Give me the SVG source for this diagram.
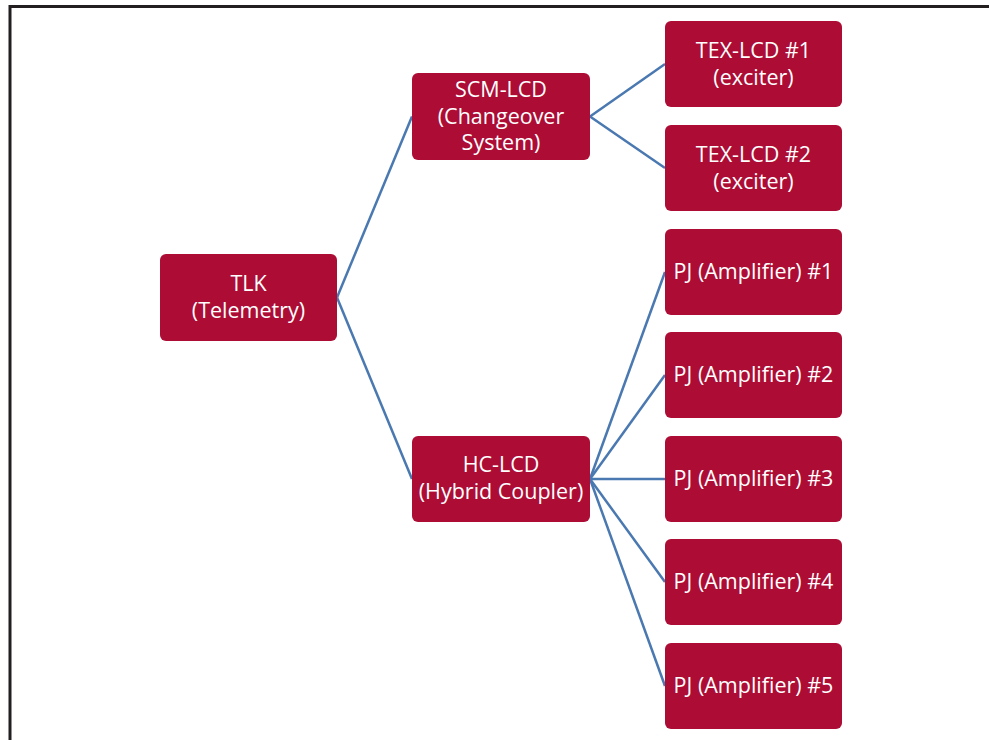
<svg xmlns="http://www.w3.org/2000/svg" width="989" height="740" viewBox="0 0 989 740">
<style>
.n rect{fill:#AD0C35}
.n text{fill:#ffffff;font-family:"Open Sans","Noto Sans","Liberation Sans",sans-serif;font-size:21.5px;text-anchor:middle}
.c path{fill:none;stroke:#4A78B0;stroke-width:2.5}
</style>
<rect width="989" height="740" fill="#ffffff"/>
<path d="M10 740 V6.5 H989" fill="none" stroke="#231F20" stroke-width="3"/>
<g id="connectors" class="c">
<path d="M337 297.5 L412 116.5"/>
<path d="M337 297.5 L412 479"/>
<path d="M590 116.5 L665 64"/>
<path d="M590 116.5 L665 168"/>
<path d="M590 479 L665 272"/>
<path d="M590 479 L665 375"/>
<path d="M590 479 L665 479"/>
<path d="M590 479 L665 582"/>
<path d="M590 479 L665 686"/>
</g>
<g id="tlk" class="n"><rect x="160" y="254" width="177" height="87" rx="6"/><text x="248.5" y="291">TLK</text><text x="248.5" y="318">(Telemetry)</text></g>
<g id="scm" class="n"><rect x="412" y="73" width="178" height="87" rx="6"/><text x="501" y="97">SCM-LCD</text><text x="501" y="123.5">(Changeover</text><text x="501" y="150">System)</text></g>
<g id="hc" class="n"><rect x="412" y="436" width="178" height="86" rx="6"/><text x="501" y="472">HC-LCD</text><text x="501" y="499">(Hybrid Coupler)</text></g>
<g id="tex1" class="n"><rect x="665" y="21" width="177" height="86" rx="6"/><text x="753.5" y="57.5">TEX-LCD #1</text><text x="753.5" y="84.5">(exciter)</text></g>
<g id="tex2" class="n"><rect x="665" y="125" width="177" height="86" rx="6"/><text x="753.5" y="161.5">TEX-LCD #2</text><text x="753.5" y="188.5">(exciter)</text></g>
<g id="pj1" class="n"><rect x="665" y="229" width="177" height="86" rx="6"/><text x="753.5" y="279">PJ (Amplifier) #1</text></g>
<g id="pj2" class="n"><rect x="665" y="332" width="177" height="86" rx="6"/><text x="753.5" y="382">PJ (Amplifier) #2</text></g>
<g id="pj3" class="n"><rect x="665" y="436" width="177" height="86" rx="6"/><text x="753.5" y="486">PJ (Amplifier) #3</text></g>
<g id="pj4" class="n"><rect x="665" y="539" width="177" height="86" rx="6"/><text x="753.5" y="589">PJ (Amplifier) #4</text></g>
<g id="pj5" class="n"><rect x="665" y="643" width="177" height="86" rx="6"/><text x="753.5" y="693">PJ (Amplifier) #5</text></g>
</svg>
